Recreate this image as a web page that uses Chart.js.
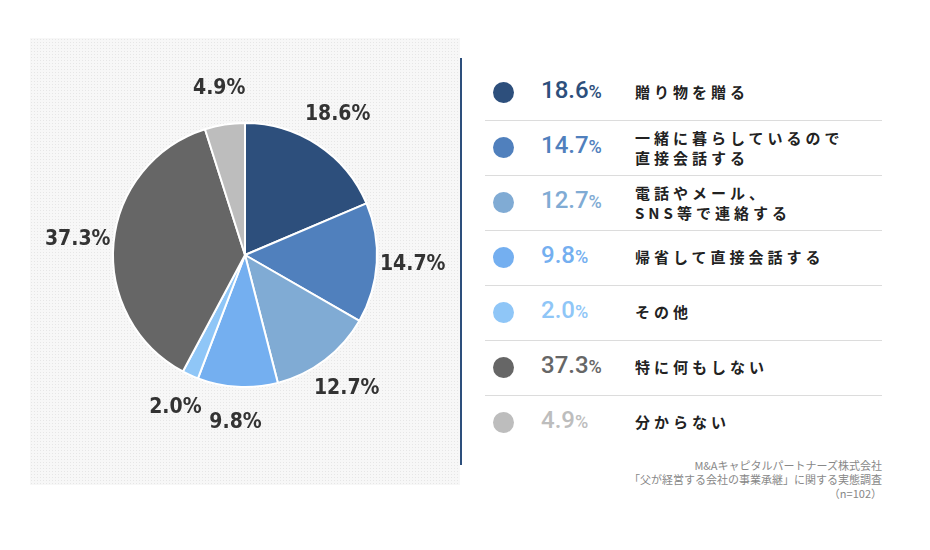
<!DOCTYPE html>
<html>
<head>
<meta charset="utf-8">
<script src="https://cdn.jsdelivr.net/npm/chart.js@4"></script>
<style>
  body { margin: 0; width: 930px; height: 550px; background: #fff; font-family: "Noto Sans CJK JP", sans-serif; position: relative; overflow: hidden; }
  #panel { position: absolute; left: 30px; top: 38px; width: 430px; height: 447px;
    background-color: #f7f7f7;
    background-image: radial-gradient(#e6e6e6 0.6px, transparent 0.8px);
    background-size: 3px 3px; }
  #wrap { position: absolute; left: 30px; top: 38px; width: 430px; height: 434px; }
  #vline { position: absolute; left: 460px; top: 58px; width: 2px; height: 407px; background: #2d4f7c; }
  .row { position: absolute; left: 485px; width: 397px; height: 55px; }
  .row.sep { border-bottom: 1px solid #dcdcdc; }
  .dot { position: absolute; left: 8px; top: 17px; width: 21px; height: 21px; border-radius: 50%; }
  .pct { position: absolute; left: 56px; top: 11px; font-family: Roboto, sans-serif; font-weight: 500; font-size: 24px; }
  .pct small { font-size: 18px; }
  .lab { position: absolute; left: 150px; font-size: 15px; font-weight: bold; letter-spacing: 4px; color: #222; line-height: 20px; }
  #src { position: absolute; right: 48px; top: 458px; text-align: right; font-size: 11px; color: #888; line-height: 14px; }
</style>
</head>
<body>
<div id="panel"></div>
<div id="wrap"><canvas id="pie"></canvas></div>
<div id="vline"></div>
<div id="legend"></div>
<div id="src">M&amp;Aキャピタルパートナーズ株式会社<br>「父が経営する会社の事業承継」に関する実態調査<br>（n=102）</div>
<script>
const labels = ['贈り物を贈る', '一緒に暮らしているので\n直接会話する', '電話やメール、\nSNS等で連絡する', '帰省して直接会話する', 'その他', '特に何もしない', '分からない'];
const values = [18.6, 14.7, 12.7, 9.8, 2.0, 37.3, 4.9];
const colors = ['#2d4f7c', '#5080bd', '#80abd4', '#74aff0', '#8fc6f7', '#666666', '#bdbdbd'];

// legend built from the same arrays
const legend = document.getElementById('legend');
labels.forEach((l, i) => {
  const row = document.createElement('div');
  row.className = 'row' + (i < labels.length - 1 ? ' sep' : '');
  row.style.top = (65 + i * 55) + 'px';
  const lines = l.split('\n');
  const top = lines.length > 1 ? 8 : 17;
  row.innerHTML = `<div class="dot" style="background:${colors[i]}"></div>
    <div class="pct" style="color:${colors[i]}">${values[i].toFixed(1)}<small>%</small></div>
    <div class="lab" style="top:${top}px">${lines.join('<br>')}</div>`;
  legend.appendChild(row);
});

// outside percent labels
const outLabels = {
  id: 'outLabels',
  afterDatasetsDraw(chart) {
    const ctx = chart.ctx;
    const meta = chart.getDatasetMeta(0);
    ctx.save();
    ctx.font = 'bold 21px "DejaVu Sans Condensed", "DejaVu Sans", sans-serif';
    ctx.fillStyle = '#333';
    ctx.textAlign = 'center';
    ctx.textBaseline = 'middle';
    meta.data.forEach((arc, i) => {
      const a = (arc.startAngle + arc.endAngle) / 2;
      const r = arc.outerRadius + 36;
      ctx.fillText(values[i].toFixed(1) + '%', arc.x + Math.cos(a) * r, arc.y + Math.sin(a) * r);
    });
    ctx.restore();
  }
};

new Chart(document.getElementById('pie'), {
  type: 'pie',
  data: {
    labels: labels,
    datasets: [{ data: values, backgroundColor: colors, borderColor: '#fff', borderWidth: 2 }]
  },
  options: {
    responsive: true,
    maintainAspectRatio: false,
    animation: false,
    layout: { padding: 82 },
    plugins: { legend: { display: false }, tooltip: { enabled: false } }
  },
  plugins: [outLabels]
});
</script>
</body>
</html>
